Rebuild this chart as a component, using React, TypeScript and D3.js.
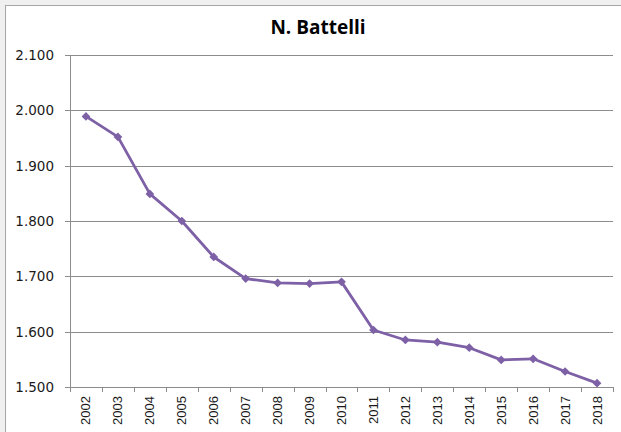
import React from "react";
import * as d3 from "d3";

const years = [
  "2002", "2003", "2004", "2005", "2006", "2007", "2008", "2009", "2010",
  "2011", "2012", "2013", "2014", "2015", "2016", "2017", "2018",
];
const values = [
  1.989, 1.952, 1.849, 1.8, 1.735, 1.696, 1.688, 1.687, 1.69,
  1.603, 1.585, 1.581, 1.571, 1.549, 1.551, 1.528, 1.507,
];
const yTicks = [1.5, 1.6, 1.7, 1.8, 1.9, 2.0, 2.1];
const title = "N. Battelli";

const W = 621;
const H = 432;
const margin = { top: 55, right: 8, bottom: 45, left: 70 };

const fmt = (v: number) => d3.format(".3f")(v);

export default function App() {
  const x = d3
    .scaleBand()
    .domain(years)
    .range([margin.left, W - margin.right]);
  const y = d3
    .scaleLinear()
    .domain([1.5, 2.1])
    .range([H - margin.bottom, margin.top]);

  const line = d3
    .line<number>()
    .x((_, i) => (x(years[i]) as number) + x.bandwidth() / 2)
    .y((d) => y(d));

  // square turned 45deg -> Excel style diamond
  const diamond = d3.symbol().type(d3.symbolSquare).size(38)();
  const bottom = y(1.5);
  const purple = "#7d60a6";

  return (
    <svg
      width={W}
      height={H}
      style={{ position: "absolute", left: 0, top: 0 }}
    >
      <rect x={0} y={0} width={W} height={H} fill="#f0f0f0" />
      <rect x={5.5} y={5.5} width={W + 10} height={H + 10} fill="#fff" stroke="#a6a6a6" />

      <text
        x={318}
        y={34}
        textAnchor="middle"
        fontFamily="'Open Sans', sans-serif"
        fontWeight="bold"
        fontSize={19}
        fill="#000"
      >
        {title}
      </text>

      {/* gridlines + y ticks */}
      {yTicks.map((t) => (
        <g key={t}>
          <line
            x1={margin.left - 5}
            x2={W - margin.right}
            y1={Math.round(y(t)) + 0.5}
            y2={Math.round(y(t)) + 0.5}
            stroke="#8c8c8c"
          />
          <text
            x={54}
            y={y(t) + 5}
            textAnchor="end"
            fontFamily="'DejaVu Sans', sans-serif"
            fontSize={13.5}
            fill="#1a1a1a"
          >
            {fmt(t)}
          </text>
        </g>
      ))}

      {/* y axis line */}
      <line
        x1={margin.left + 0.5}
        x2={margin.left + 0.5}
        y1={margin.top}
        y2={bottom + 5}
        stroke="#8c8c8c"
      />

      {/* x ticks */}
      {years.concat(["end"]).map((yr, i) => {
        const px = i < years.length ? (x(yr) as number) : x.range()[1];
        return (
          <line
            key={yr}
            x1={Math.round(px) + 0.5}
            x2={Math.round(px) + 0.5}
            y1={bottom}
            y2={bottom + 5}
            stroke="#8c8c8c"
          />
        );
      })}

      {years.map((yr) => {
        const cx = (x(yr) as number) + x.bandwidth() / 2;
        return (
          <text
            key={yr}
            transform={`translate(${cx + 4.5},${bottom + 9}) rotate(-90)`}
            textAnchor="end"
            fontFamily="'Liberation Sans', sans-serif"
            fontSize={13}
            fill="#1a1a1a"
          >
            {yr}
          </text>
        );
      })}

      <path
        d={line(values) as string}
        fill="none"
        stroke={purple}
        strokeWidth={2.8}
        strokeLinejoin="round"
      />
      {values.map((v, i) => (
        <path
          key={i}
          d={diamond as string}
          transform={`translate(${(x(years[i]) as number) + x.bandwidth() / 2},${y(v)}) rotate(45)`}
          fill={purple}
        />
      ))}
    </svg>
  );
}
